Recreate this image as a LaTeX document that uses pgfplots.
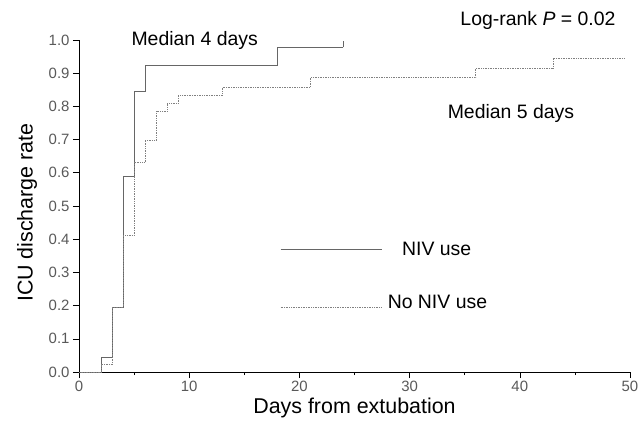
\documentclass[border=0pt]{standalone}
\usepackage{pgfplots}
\pgfplotsset{compat=1.18}
\usepackage{fontspec}
\setmainfont{Liberation Sans}
\begin{document}
\begin{tikzpicture}[x=1bp,y=1bp]
\useasboundingbox (-79bp,-56bp) rectangle (565bp,372bp);
\begin{axis}[
  at={(0,0)}, anchor=origin,
  scale only axis, width=551bp, height=332bp,
  xmin=0, xmax=50, ymin=0, ymax=1.0,
  axis lines*=left,
  axis line style={black, line width=0.9pt},
  xtick={0,10,20,30,40,50},
  minor xtick={5,15,25,35,45},
  ytick={0,0.1,0.2,0.3,0.4,0.5,0.6,0.7,0.8,0.9,1.0},
  yticklabel style={/pgf/number format/.cd, fixed, fixed zerofill, precision=1},
  /pgf/number format/assume math mode=true,
  tick style={black, line width=0.6pt},
  tick align=outside,
  major tick length=6bp, minor tick length=3bp,
  ticklabel style={font=\fontsize{15}{17}\selectfont, text=black!65},
  xlabel={Days from extubation},
  ylabel={ICU discharge rate},
  label style={font=\fontsize{21.5}{24}\selectfont},
  xlabel style={at={(rel axis cs:0.5,0)}, anchor=center, yshift=-36bp},
  ylabel style={at={(rel axis cs:0,0.48)}, anchor=center, yshift=52bp},
  clip=false,
]
\addplot[const plot, black!60, line width=0.8pt] coordinates {
(0,0) (2,0.044) (3,0.196) (4,0.59) (5,0.845) (6,0.922) (18,0.978) (24,0.978)
};
\addplot[black!60, line width=0.6pt] coordinates {(24,0.978) (24,0.997)};
\addplot[const plot, black!50, densely dotted, line width=0.7pt] coordinates {
(0,0) (2,0.022) (3,0.196) (4,0.412) (5,0.632) (6,0.698) (7,0.786) (8,0.81) (9,0.833) (13,0.858) (21,0.887) (36,0.916) (43,0.946) (49.5,0.946)
};
\draw[black!60, line width=0.8pt] (axis cs:18.3,0.37) -- (axis cs:27.5,0.37);
\draw[black!50, densely dotted, line width=0.7pt] (axis cs:18.3,0.195) -- (axis cs:27.5,0.195);
\node[anchor=west, font=\fontsize{19.5}{22}\selectfont, inner sep=0pt] at (axis cs:29.3,0.37) {NIV use};
\node[anchor=west, font=\fontsize{19.5}{22}\selectfont, inner sep=0pt] at (axis cs:28.0,0.21) {No NIV use};
\node[font=\fontsize{19.5}{22}\selectfont] at (axis cs:10.5,1.0) {Median 4 days};
\node[font=\fontsize{19.5}{22}\selectfont] at (axis cs:39.2,0.78) {Median 5 days};
\node[font=\fontsize{19.5}{22}\selectfont] at (axis cs:41.65,1.06) {Log-rank \textit{P} = 0.02};
\end{axis}
\end{tikzpicture}
\end{document}
